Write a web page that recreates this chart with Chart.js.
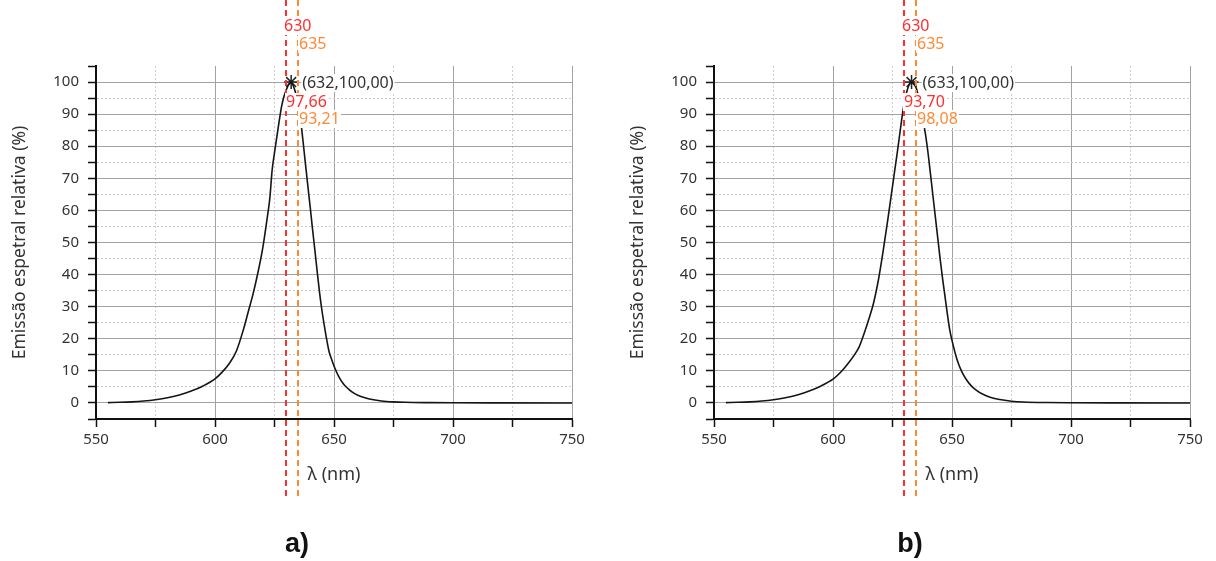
<!DOCTYPE html>
<html><head><meta charset="utf-8">
<script src="https://cdn.jsdelivr.net/npm/chart.js@4.4.1/dist/chart.umd.min.js"></script>
<style>
html,body{margin:0;padding:0;background:#fff;width:1216px;height:561px;overflow:hidden;}
.wrap{position:absolute;top:0;width:598px;height:561px;}
.cap{position:absolute;top:528px;font:bold 27px "Liberation Sans",Arial,sans-serif;color:#111;transform:translateX(-50%);line-height:30px;}
</style></head><body>
<div class="wrap" style="left:0"><canvas id="ca" width="598" height="561"></canvas></div>
<div class="wrap" style="left:618px"><canvas id="cb" width="598" height="561"></canvas></div>
<div class="cap" style="left:297px">a)</div>
<div class="cap" style="left:910px">b)</div>
<script>
// ---- data ----
const LAMBDA_A = [555,560,565,570,575,580,585,590,595,600,603,606,609,612,614,616,618,620,622,623,624,625,626,627,628,629,630,631,632,633,634,635,636,637,638,639,640,641,642,643,644,645,646,647,648,649,650,652,654,656,658,660,663,666,670,675,680,690,700,720,750];
const EMISSION_A = [0.1,0.2,0.35,0.6,1.0,1.6,2.5,3.7,5.3,7.5,9.6,12.3,16.2,23,28.5,34,40.5,48,58,63.5,72.5,78,83,88,92.5,95.6,97.66,99.3,100,98.6,96.3,93.21,88,81.5,74.5,67.7,61,54,47.4,40.5,34,28.5,23.8,19.5,15.8,13.6,11.5,8.2,5.9,4.4,3.2,2.4,1.6,1.05,0.6,0.33,0.2,0.1,0.05,0.02,0];
const LAMBDA_B = [555,560,565,570,575,580,585,590,595,600,603,606,609,611,613,615,617,619,621,623,625,627,628,629,630,631,632,633,634,635,636,637,638,639,640,642,644,645,646,647,648,649,650,652,654,656,658,660,663,666,670,675,680,690,700,720,750];
const EMISSION_B = [0.1,0.2,0.35,0.6,1.0,1.6,2.5,3.7,5.3,7.4,9.4,12,15,17.5,21.5,26,31,38,47,57,67.5,78,83.5,89,93.70,97,99.2,100,99.5,98.08,95.2,91.5,87.5,83,77.5,64.5,51.5,45,39,33.5,28,23,19.5,13.8,9.9,7.3,5.4,4.1,2.7,1.8,1.05,0.55,0.3,0.12,0.06,0.02,0];
const REF_LINES = [630, 635];
const PEAK_A = [632, 100.00];
const REF_VALUES_A = [97.66, 93.21];
const PEAK_B = [633, 100.00];
const REF_VALUES_B = [93.70, 98.08];
const X_MIN = 550, X_MAX = 750, X_STEP = 25, X_LABEL_STEP = 50;
const Y_MIN = -5, Y_MAX = 105, Y_STEP = 5, Y_LABEL_STEP = 10;
const X_TITLE = 'λ (nm)';
const Y_TITLE = 'Emissão espetral relativa (%)';

// ---- styles ----
const RED = '#ff2f2f', ORANGE = '#ff8a36';
const REF_COLORS = [RED, ORANGE];
const FONT = '"Noto Sans", "DejaVu Sans", sans-serif';
const MAJOR = '#a3a3a3', MINOR = '#cdcdcd', AXIS = '#111';
const fmt = v => v.toFixed(2).replace('.', ',');

const annotPlugin = {
  id: 'annot',
  afterDraw(chart) {
    const cfg = chart.config.options.annotCfg;
    const ctx = chart.ctx, xs = chart.scales.x, ys = chart.scales.y;
    ctx.save();
    const lx = REF_LINES.map(v => Math.round(xs.getPixelForValue(v)));
    lx.forEach((px, i) => {
      ctx.strokeStyle = REF_COLORS[i];
      ctx.lineWidth = 2;
      ctx.setLineDash([6, 4]);
      ctx.beginPath(); ctx.moveTo(px, 0); ctx.lineTo(px, 498); ctx.stroke();
    });
    ctx.setLineDash([]);
    ctx.font = '16px ' + FONT;
    ctx.textBaseline = 'middle'; ctx.textAlign = 'left';
    const label = (text, x, y, color) => {
      const w = ctx.measureText(text).width;
      ctx.fillStyle = '#fff'; ctx.fillRect(x - 1, y - 9, w + 2, 18);
      ctx.fillStyle = color; ctx.fillText(text, x, y);
    };
    label(String(REF_LINES[0]), lx[0] - 2, 26, RED);
    label(String(REF_LINES[1]), lx[1] + 1, 44, ORANGE);
    const mx = xs.getPixelForValue(cfg.peak[0]), my = ys.getPixelForValue(cfg.peak[1]);
    label('(' + cfg.peak[0] + ',' + fmt(cfg.peak[1]) + ')', mx + 11, my + 1, '#333');
    label(fmt(cfg.refVals[0]), lx[0], my + 20, RED);
    label(fmt(cfg.refVals[1]), lx[1] + 1, my + 37, ORANGE);
    ctx.restore();
  }
};

function makeChart(id, xs, ys, peak, refVals) {
  return new Chart(document.getElementById(id), {
    type: 'scatter',
    data: {
      datasets: [
        { data: xs.map((x, i) => ({x, y: ys[i]})), showLine: true, borderColor: '#151515', borderWidth: 1.6,
          pointRadius: 0, cubicInterpolationMode: 'monotone', fill: false },
        { data: [{x: peak[0], y: peak[1]}], showLine: false, pointStyle: 'star', pointRadius: 7,
          borderColor: '#222', backgroundColor: '#222', borderWidth: 1.5 }
      ]
    },
    options: {
      responsive: false, animation: false, events: [],
      annotCfg: { peak, refVals },
      layout: { padding: { left: 0, top: 66, right: 26, bottom: 561 - 419 - 67 } },
      plugins: { legend: { display: false }, tooltip: { enabled: false } },
      scales: {
        x: {
          type: 'linear', min: X_MIN, max: X_MAX,
          afterFit: s => { s.height = 67; },
          ticks: { stepSize: X_STEP, autoSkip: false, maxRotation: 0, padding: 4, color: '#333',
                   font: { family: FONT, size: 15 },
                   callback: v => (v % X_LABEL_STEP === 0 ? String(v) : '') },
          grid: {
            color: c => (c.tick && c.tick.value % X_LABEL_STEP === 0 ? MAJOR : MINOR),
            lineWidth: 1, tickLength: 8, tickColor: AXIS, tickWidth: 1.5
          },
          border: { display: true, color: AXIS, width: 2,
                    dash: c => (c.tick && c.tick.value % X_LABEL_STEP !== 0 ? [2, 2] : []) },
          title: { display: true, text: X_TITLE, color: '#333', font: { family: FONT, size: 18 },
                   padding: { top: 0, bottom: 0 } }
        },
        y: {
          type: 'linear', min: Y_MIN, max: Y_MAX,
          afterFit: s => { s.width = 96; },
          ticks: { stepSize: Y_STEP, autoSkip: false, padding: 9, color: '#333',
                   font: { family: FONT, size: 15 },
                   callback: v => (v % Y_LABEL_STEP === 0 && v >= 0 && v <= 100 ? String(v) : '') },
          grid: {
            color: c => {
              const v = c.tick ? c.tick.value : 0;
              if (v < 0 || v > 100) return 'rgba(0,0,0,0)';
              return v % Y_LABEL_STEP === 0 ? MAJOR : MINOR;
            },
            tickColor: AXIS,
            lineWidth: 1, tickLength: 8, tickWidth: 1.5
          },
          border: { display: true, color: AXIS, width: 2,
                    dash: c => (c.tick && c.tick.value % Y_LABEL_STEP !== 0 ? [2, 2] : []) },
          title: { display: true, text: Y_TITLE, color: '#333', font: { family: FONT, size: 17.5 },
                   padding: { top: 10, bottom: 0 } }
        }
      }
    },
    plugins: [annotPlugin]
  });
}
makeChart('ca', LAMBDA_A, EMISSION_A, PEAK_A, REF_VALUES_A);
makeChart('cb', LAMBDA_B, EMISSION_B, PEAK_B, REF_VALUES_B);
</script>
</body></html>
